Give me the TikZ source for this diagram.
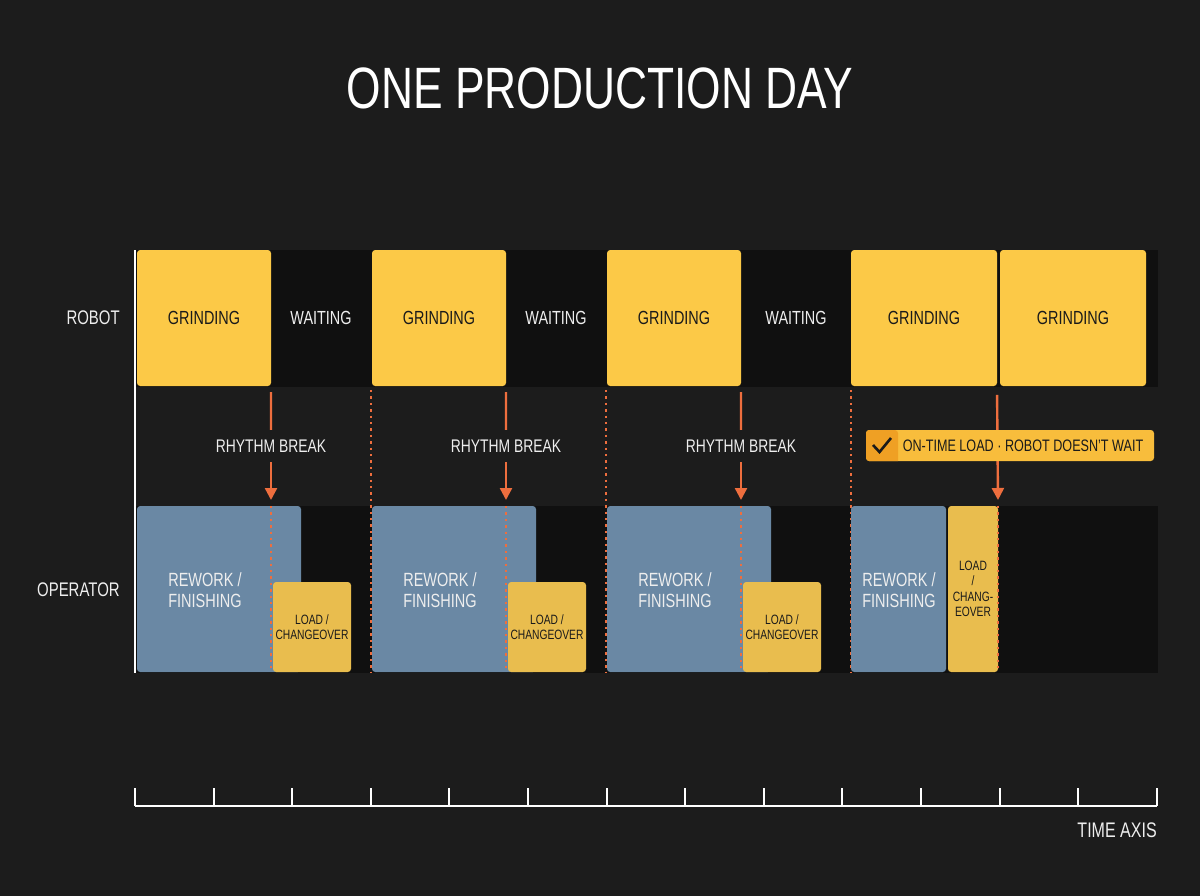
\documentclass[tikz,border=0pt]{standalone}
\usepackage{fontspec}
\setmainfont{Liberation Sans}[FakeStretch=0.76]
\usetikzlibrary{arrows.meta}

\definecolor{bg}{HTML}{1C1C1C}
\definecolor{band}{HTML}{101010}
\definecolor{robotyellow}{HTML}{FCC947}
\definecolor{loadyellow}{HTML}{E9BD4E}
\definecolor{opblue}{HTML}{6A88A4}
\definecolor{brkorange}{HTML}{EE6E3E}
\definecolor{okyellow}{HTML}{F8BD3C}
\definecolor{okdark}{HTML}{EFA024}
\definecolor{ink}{HTML}{1A1A1A}
\definecolor{paper}{HTML}{EEEEEE}

\begin{document}
\begin{tikzpicture}[x=0.25mm, y=-0.25mm,
	blk/.style={inner sep=0pt, outer sep=0pt, anchor=north west, rounded corners=0.8mm, align=center},
	grind/.style={blk, fill=robotyellow, text=ink, minimum height=34mm, font=\fontsize{13.5}{15}\selectfont},
	rework/.style={blk, fill=opblue, minimum height=41.5mm},
	load/.style={blk, fill=loadyellow, text=ink, font=\fontsize{9.6}{10.9}\selectfont},
	wtext/.style={text=paper, align=center, font=\fontsize{13.6}{14.6}\selectfont},
	brk/.style={text=paper, inner xsep=0pt, inner ysep=2.4mm, font=\fontsize{13}{14}\selectfont},
	brkline/.style={draw=brkorange, line width=0.6mm},
	dots/.style={draw=brkorange, line width=0.6mm, dash pattern=on 0.6mm off 1mm},
	axis/.style={draw=white, line width=0.5mm}
]
	\useasboundingbox (0,0) rectangle (1200,896);
	\fill[bg] (0,0) rectangle (1200,896);
	
	\node[text=white, font=\fontsize{41.5}{45}\selectfont] (title) at (600,88) {ONE PRODUCTION DAY};
	
	% rows
	\fill[band] (135,250) rectangle (1158,387);
	\fill[band] (135,506) rectangle (1158,673);
	\node[wtext, anchor=east, inner xsep=0pt, font=\fontsize{14}{15}\selectfont] (robot) at (120,318) {ROBOT};
	\node[wtext, anchor=east, inner xsep=0pt, font=\fontsize{14}{15}\selectfont] (operator) at (120,590) {OPERATOR};
	
	% three cycles with waiting
	\foreach \s/\e/\n in {136/371/1, 371/606/2, 606/851/3} {
		\node[grind, minimum width=33.5mm] (g\n) at (\s+1,250) {GRINDING};
		\node[wtext, font=\fontsize{13.5}{15}\selectfont] (w\n) at ({(\s+135+\e)/2},318) {WAITING};
		\node[rework, minimum width=41mm] (rw\n) at (\s+1,506) {};
		\node[wtext] (rwt\n) at (\s+69,590) {REWORK /\\FINISHING};
		\node[load, minimum width=19.5mm, minimum height=22.5mm] (ld\n) at (\s+137,582) {LOAD /\\CHANGEOVER};
		
		\node[brk] (rb\n) at (\s+135,446) {RHYTHM BREAK};
		\coordinate (t\n) at (\s+135,500);
		\draw[brkline, shorten <=1.5mm] (g\n.south east) -- (rb\n.north);
		\draw[brkline, -{Triangle[width=3mm,length=3mm]}] (rb\n.south) -- (t\n);
		\draw[dots] (t\n |- rw\n.north) -- (t\n |- rw\n.south);
		\draw[dots] (\e,390) -- (\e,672);
	}
	
	% last cycle, on time
	\node[grind, minimum width=36.5mm] (g4) at (851,250) {GRINDING};
	\node[grind, minimum width=36.5mm] (g5) at (1000,250) {GRINDING};
	\node[rework, minimum width=23.75mm] (rw4) at (851,506) {};
	\node[wtext] (rwt4) at (899,590) {REWORK /\\FINISHING};
	\node[load, minimum width=12.5mm, minimum height=41.5mm] (ld4) at (948,506) {LOAD\\/\\CHANG-\\EOVER};
	
	\coordinate (t4) at (998,500);
	\draw[brkline, shorten <=2.2mm, -{Triangle[width=3mm,length=3mm]}] (g4.south east) -- (t4);
	\draw[dots] (t4 |- rw4.north) -- (t4 |- rw4.south);
	
	\node[blk, fill=okyellow, minimum width=72mm, minimum height=7.75mm] (ok) at (866,430) {};
	\fill[okdark, rounded corners=0.8mm] (ok.north west) -- ++(32,0) [sharp corners] -- ++(0,31) [rounded corners=0.8mm] -- (ok.south west) -- cycle;
	\draw[ink, line width=0.65mm] (873,445) -- (879.5,452) -- (891,438);
	\node[text=ink, font=\fontsize{11.8}{13}\selectfont] (okt) at (1023,446) {ON-TIME LOAD · ROBOT DOESN'T WAIT};
	
	% left edge
	\draw[axis] (135,250) -- (135,673);
	
	% time axis
	\draw[axis] (135,806) coordinate (ax0) -- (1157,806) coordinate (ax1);
	\foreach \k in {0,...,13}
		\draw[axis] ({135+\k*78.6},806) -- ++(0,-18);
	\node[wtext, anchor=east, inner xsep=0pt, font=\fontsize{15}{16}\selectfont] (time) at (ax1 |- 0,830) {TIME AXIS};
	
\end{tikzpicture}
\end{document}
